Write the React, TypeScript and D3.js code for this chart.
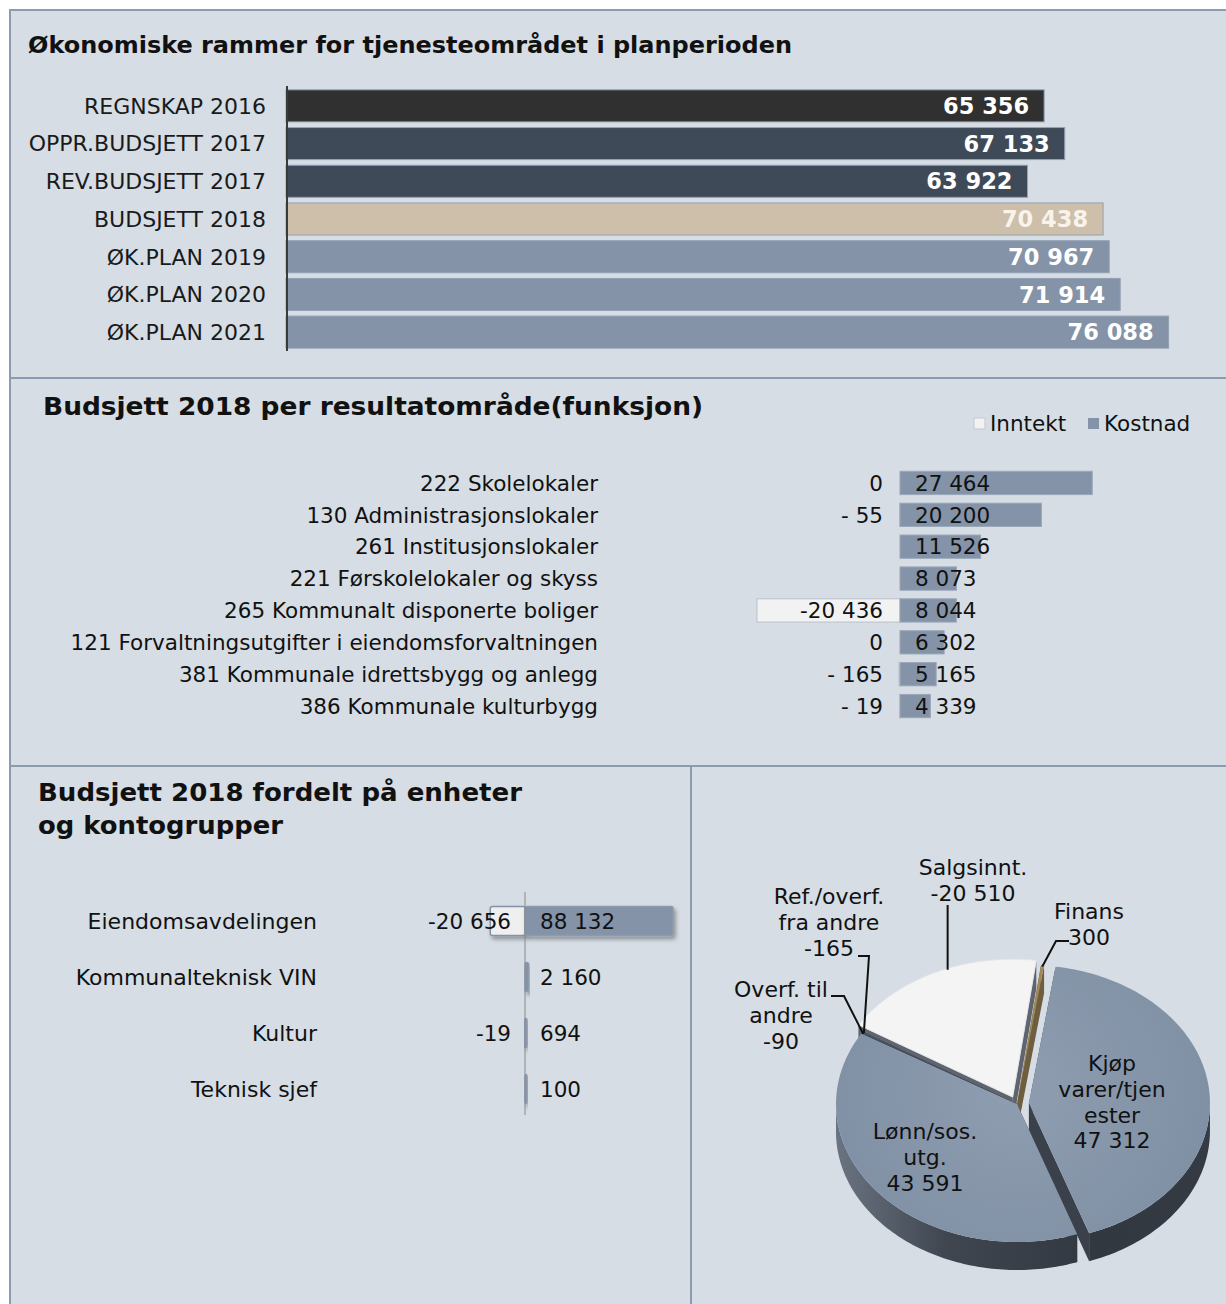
import React from 'react';
import * as d3 from 'd3';

// --- data ---------------------------------------------------------------
const planCategories = [
  'REGNSKAP 2016',
  'OPPR.BUDSJETT 2017',
  'REV.BUDSJETT 2017',
  'BUDSJETT 2018',
  'ØK.PLAN 2019',
  'ØK.PLAN 2020',
  'ØK.PLAN 2021',
];
const planValues = [65356, 67133, 63922, 70438, 70967, 71914, 76088];

const funcCategories = [
  '222 Skolelokaler',
  '130 Administrasjonslokaler',
  '261 Institusjonslokaler',
  '221 Førskolelokaler og skyss',
  '265 Kommunalt disponerte boliger',
  '121 Forvaltningsutgifter i eiendomsforvaltningen',
  '381 Kommunale idrettsbygg og anlegg',
  '386 Kommunale kulturbygg',
];
const funcInntekt: (number | null)[] = [0, -55, null, null, -20436, 0, -165, -19];
const funcKostnad = [27464, 20200, 11526, 8073, 8044, 6302, 5165, 4339];
const seriesNames = ['Inntekt', 'Kostnad'];

const unitCategories = ['Eiendomsavdelingen', 'Kommunalteknisk VIN', 'Kultur', 'Teknisk sjef'];
const unitInntekt: (number | null)[] = [-20656, null, -19, null];
const unitKostnad = [88132, 2160, 694, 100];

const pieLabels = [
  ['Finans'],
  ['Kjøp', 'varer/tjen', 'ester'],
  ['Lønn/sos.', 'utg.'],
  ['Overf. til', 'andre'],
  ['Ref./overf.', 'fra andre'],
  ['Salgsinnt.'],
];
const pieValues = [300, 47312, 43591, -90, -165, -20510];

// --- styles -------------------------------------------------------------
const FONT = '"DejaVu Sans", Verdana, sans-serif';
const BG = '#d6dde4';
const BORDER = '#8c9cb0';
const SLATE = '#8493a7';
const planFill = ['#303030', '#3f4a59', '#3f4a59', '#cdbfa9', SLATE, SLATE, SLATE];
const planText = ['#fff', '#fff', '#fff', '#f8f4ec', '#fff', '#fff', '#fff'];

const locale = d3.formatLocale({ decimal: ',', thousands: ' ', grouping: [3], currency: ['', ''], minus: '-' });
const fmt = locale.format(',d');
// excel "# ##0" leaves a gap after the minus on small negatives
const fmtGap = (v: number) => (v < 0 && v > -1000 ? `- ${fmt(-v)}` : fmt(v));

function PlanChart() {
  const x = d3.scaleLinear().domain([0, 80000]).range([286, 1214]);
  const y = d3.scaleBand<string>().domain(planCategories).range([87, 351]).paddingInner(0.15).paddingOuter(0.075);
  return (
    <g>
      <text x={28} y={53} fontSize={23} fontWeight="bold" fill="#111" textLength={764} lengthAdjust="spacingAndGlyphs">
        Økonomiske rammer for tjenesteområdet i planperioden
      </text>
      {planCategories.map((c, i) => {
        const y0 = y(c)!;
        const bw = y.bandwidth();
        return (
          <g key={c}>
            <text x={266} y={y0 + bw / 2} dy="0.36em" textAnchor="end" fontSize={22} fill="#1a1a1a">
              {c}
            </text>
            <rect x={x(0)} y={y0} width={x(planValues[i]) - x(0)} height={bw} fill={planFill[i]} stroke="#93a2b5" strokeWidth={1} />
            <text x={x(planValues[i]) - 15} y={y0 + bw / 2} dy="0.36em" textAnchor="end" fontSize={22.5} fontWeight="bold" fill={planText[i]}>
              {fmt(planValues[i])}
            </text>
          </g>
        );
      })}
      <line x1={287} x2={287} y1={86} y2={351} stroke="#3a3a3a" strokeWidth={2} />
    </g>
  );
}

function FuncChart() {
  const x = d3.scaleLinear().domain([-30000, 40000]).range([690, 1180]);
  const y = d3.scaleBand<string>().domain(funcCategories).range([467, 722]).paddingInner(0.27).paddingOuter(0.135);
  const bw = y.bandwidth();
  return (
    <g>
      <text x={43} y={415} fontSize={24} fontWeight="bold" fill="#111" textLength={660} lengthAdjust="spacingAndGlyphs">
        Budsjett 2018 per resultatområde(funksjon)
      </text>
      <rect x={974} y={418} width={11} height={11} fill="#f2f2f2" stroke="#c4c9cf" />
      <text x={990} y={423.5} dy="0.36em" fontSize={21.5} fill="#111">{seriesNames[0]}</text>
      <rect x={1088} y={418} width={11} height={11} fill={SLATE} />
      <text x={1104} y={423.5} dy="0.36em" fontSize={21.5} fill="#111">{seriesNames[1]}</text>
      {funcCategories.map((c, i) => {
        const y0 = y(c)!;
        const inn = funcInntekt[i];
        return (
          <g key={c}>
            <text x={598} y={y0 + bw / 2} dy="0.36em" textAnchor="end" fontSize={21.5} fill="#111">
              {c}
            </text>
            {inn !== null && (
              <rect x={x(inn)} y={y0} width={x(0) - x(inn)} height={bw} fill="#f2f2f2" stroke="#b9c1cb" strokeWidth={1} />
            )}
            <rect x={x(0)} y={y0} width={x(funcKostnad[i]) - x(0)} height={bw} fill={SLATE} stroke="#9aa7b8" strokeWidth={1} />
            {inn !== null && (
              <text x={x(0) - 17} y={y0 + bw / 2} dy="0.36em" textAnchor="end" fontSize={21.5} fill="#111">
                {fmtGap(inn)}
              </text>
            )}
            <text x={x(0) + 15} y={y0 + bw / 2} dy="0.36em" fontSize={21.5} fill="#111">
              {fmtGap(funcKostnad[i])}
            </text>
          </g>
        );
      })}
    </g>
  );
}

function UnitChart() {
  const x = d3.scaleLinear().domain([-30000, 100000]).range([474.6, 693]);
  const y = d3.scaleBand<string>().domain(unitCategories).range([893, 1117]).paddingInner(0.48).paddingOuter(0.24);
  const bw = y.bandwidth();
  return (
    <g>
      <text x={38} y={801} fontSize={24} fontWeight="bold" fill="#111" textLength={484} lengthAdjust="spacingAndGlyphs">
        Budsjett 2018 fordelt på enheter
      </text>
      <text x={38} y={834} fontSize={24} fontWeight="bold" fill="#111" textLength={245} lengthAdjust="spacingAndGlyphs">
        og kontogrupper
      </text>
      {unitCategories.map((c, i) => {
        const y0 = y(c)!;
        const inn = unitInntekt[i];
        const wk = Math.max(x(unitKostnad[i]) - x(0), 2);
        return (
          <g key={c}>
            <text x={317} y={y0 + bw / 2} dy="0.36em" textAnchor="end" fontSize={22} fill="#111">
              {c}
            </text>
            {inn !== null && (
              <rect x={x(inn)} y={y0} width={x(0) - x(inn)} height={bw} fill="#efefef" stroke={SLATE} strokeWidth={1.5} rx={2} filter="url(#shadow)" />
            )}
            <rect x={x(0)} y={y0} width={wk} height={bw} fill={SLATE} stroke="#8d9bb0" strokeWidth={1.5} rx={2} filter="url(#shadow)" />
            {inn !== null && (
              <text x={511} y={y0 + bw / 2} dy="0.36em" textAnchor="end" fontSize={21.5} fill="#111">
                {fmt(inn)}
              </text>
            )}
            <text x={540} y={y0 + bw / 2} dy="0.36em" fontSize={21.5} fill="#111">
              {fmt(unitKostnad[i])}
            </text>
          </g>
        );
      })}
      <line x1={525} x2={525} y1={892} y2={1115} stroke="#8a8a8a" strokeWidth={1} />
    </g>
  );
}

function PieChart() {
  const cx = 1017, cy = 1104, rx = 181, ry = 138, depth = 28;
  const offset = (7.5 * Math.PI) / 180;
  const arcs = d3.pie<number>().value((v) => Math.abs(v)).sort(null).startAngle(offset).endAngle(offset + 2 * Math.PI)(pieValues);
  const explode = [3, 12, 0, 0, 0, 10];
  const topFill = ['#a08858', 'url(#pieTop)', 'url(#pieTop)', '#4a525e', '#4a525e', '#f4f4f4'];
  const sideFill = ['#6e5d3e', '#3a414b', '#3a414b', '#3a414b', '#3a414b', '#5f656e'];

  const pt = (a: number, r: number, ox: number, oy: number, dz = 0): [number, number] => [
    cx + ox + rx * r * Math.sin(a),
    cy + oy - ry * r * Math.cos(a) + dz,
  ];
  const arcPts = (a0: number, a1: number, ox: number, oy: number, dz = 0) => {
    const n = Math.max(2, Math.ceil((a1 - a0) / 0.02));
    return d3.range(n + 1).map((k) => pt(a0 + ((a1 - a0) * k) / n, 1, ox, oy, dz));
  };
  const line = d3.line();

  const slices = arcs.map((a, i) => {
    const mid = (a.startAngle + a.endAngle) / 2;
    const ox = explode[i] * Math.sin(mid);
    const oy = -explode[i] * Math.cos(mid) * (ry / rx);
    return { a, i, mid, ox, oy };
  });
  const order = [...slices].sort((p, q) => -Math.cos(p.mid) - -Math.cos(q.mid));

  const radial: React.ReactNode[] = [];
  const outer: React.ReactNode[] = [];
  const tops: React.ReactNode[] = [];
  order.forEach(({ a, i, ox, oy }) => {
    [a.startAngle, a.endAngle].forEach((ang, k) => {
      const c0 = pt(0, 0, ox, oy);
      const r0 = pt(ang, 1, ox, oy);
      const d = line([c0, r0, [r0[0], r0[1] + depth], [c0[0], c0[1] + depth]])! + 'Z';
      radial.push(<path key={`r${i}${k}`} d={d} fill={sideFill[i]} />);
    });
    const windows = [
      [Math.PI / 2, (3 * Math.PI) / 2],
      [(5 * Math.PI) / 2, (7 * Math.PI) / 2],
    ];
    windows.forEach(([w0, w1], k) => {
      const s = Math.max(a.startAngle, w0);
      const e = Math.min(a.endAngle, w1);
      if (e <= s) return;
      const topPts = arcPts(s, e, ox, oy);
      const botPts = arcPts(s, e, ox, oy, depth).reverse();
      const fill = i === 1 || i === 2 ? 'url(#pieSide)' : sideFill[i];
      outer.push(<path key={`o${i}${k}`} d={line([...topPts, ...botPts])! + 'Z'} fill={fill} />);
    });
  });
  slices.forEach(({ a, i, ox, oy }) => {
    const d = line([pt(0, 0, ox, oy), ...arcPts(a.startAngle, a.endAngle, ox, oy)])! + 'Z';
    tops.push(<path key={`t${i}`} d={d} fill={topFill[i]} stroke={i === 5 ? '#e2e4e7' : 'none'} strokeWidth={1} />);
  });

  // label text positions and leader lines
  const labelPos: [number, number][] = [
    [1089, 911],
    [1112, 1063],
    [925, 1131],
    [781, 989],
    [829, 896],
    [973, 867],
  ];
  const rim = (i: number) => {
    const s = slices[i];
    return pt(s.mid, 0.99, s.ox, s.oy);
  };
  const leaders: string[] = [];
  const pf = rim(0);
  leaders.push(line([[1069, 941], [1056, 941], pf])!);
  const pr = rim(4);
  leaders.push(line([[858, 956], [869, 956], pr])!);
  const po = rim(3);
  leaders.push(line([[831, 996], [844, 996], po])!);
  const ps = rim(5);
  leaders.push(line([[ps[0] + 12, 905], [ps[0] + 12, ps[1] - 4]])!);

  return (
    <g>
      {radial}
      {outer}
      {tops}
      {leaders.map((d, k) => (
        <path key={k} d={d} fill="none" stroke="#111" strokeWidth={2} />
      ))}
      {pieLabels.map((lines, i) => {
        const all = [...lines, fmt(pieValues[i])];
        return all.map((t, k) => (
          <text key={`${i}-${k}`} x={labelPos[i][0]} y={labelPos[i][1] + k * 25.8} dy="0.36em" textAnchor="middle" fontSize={22} fill="#111">
            {t}
          </text>
        ));
      })}
    </g>
  );
}

export default function App() {
  return (
    <div style={{ position: 'absolute', left: 0, top: 0 }}>
      <svg width={1226} height={1304} style={{ display: 'block', fontFamily: FONT }}>
        <defs>
          <filter id="shadow" x="-20%" y="-30%" width="140%" height="180%">
            <feDropShadow dx={2} dy={3} stdDeviation={2} floodColor="#000" floodOpacity={0.35} />
          </filter>
          <linearGradient id="pieSide" gradientUnits="userSpaceOnUse" x1={834} x2={1210} y1={0} y2={0}>
            <stop offset="0" stopColor="#6b7482" />
            <stop offset="0.3" stopColor="#3f4650" />
            <stop offset="0.7" stopColor="#323840" />
            <stop offset="1" stopColor="#353b44" />
          </linearGradient>
          <radialGradient id="pieTop" gradientUnits="userSpaceOnUse" cx={1017} cy={1090} r={230}>
            <stop offset="0" stopColor="#8e9db0" />
            <stop offset="1" stopColor="#7e8ea2" />
          </radialGradient>
        </defs>
        <rect x={0} y={0} width={1226} height={1304} fill="#fff" />
        <rect x={10} y={10} width={1240} height={1310} fill={BG} stroke={BORDER} strokeWidth={2} />
        <line x1={10} x2={1226} y1={378} y2={378} stroke={BORDER} strokeWidth={2} />
        <line x1={10} x2={1226} y1={766} y2={766} stroke={BORDER} strokeWidth={2} />
        <line x1={691} x2={691} y1={766} y2={1304} stroke={BORDER} strokeWidth={2} />
        <PlanChart />
        <FuncChart />
        <UnitChart />
        <PieChart />
      </svg>
    </div>
  );
}
